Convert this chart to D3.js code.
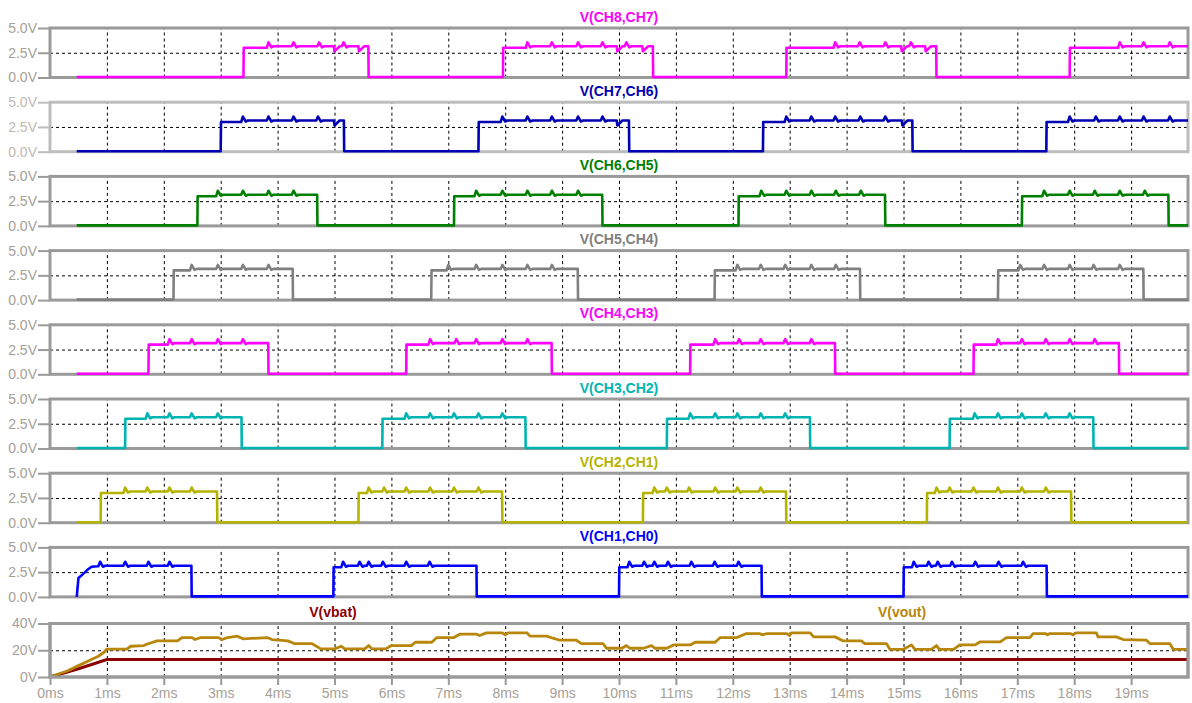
<html>
<head>
<script src="https://d3js.org/d3.v7.min.js"></script>
<style>
body{margin:0;background:#fff;}
text{font-family:"Liberation Sans",Arial,sans-serif;}
</style>
</head>
<body>
<script>
// ---- data (time in ms, volts) ----
var chNames=["V(CH8,CH7)","V(CH7,CH6)","V(CH6,CH5)","V(CH5,CH4)","V(CH4,CH3)","V(CH3,CH2)","V(CH2,CH1)","V(CH1,CH0)"];
var xLabels=["0ms","1ms","2ms","3ms","4ms","5ms","6ms","7ms","8ms","9ms","10ms","11ms","12ms","13ms","14ms","15ms","16ms","17ms","18ms","19ms"];
var chTicks=[0,2.5,5], chTickLabels=["0.0V","2.5V","5.0V"];
var botTicks=[0,20,40], botTickLabels=["0V","20V","40V"];

// pulse edges [rise, fall] per channel
var edges87=[[3.40,5.60],[7.96,10.60],[12.94,15.58],[17.92,20]];
var edges76=[[3.00,5.17],[7.53,10.18],[12.53,15.16],[17.51,20]];
var edges65=[[2.59,4.70],[7.10,9.71],[12.10,14.68],[17.08,19.66]];
var edges54=[[2.17,4.27],[6.70,9.28],[11.68,14.24],[16.66,19.22]];
var edges43=[[1.73,3.84],[6.26,8.82],[11.25,13.80],[16.23,18.79]];
var edges32=[[1.32,3.37],[5.84,8.36],[10.84,13.36],[15.81,18.34]];
var edges21=[[0.89,2.94],[5.42,7.95],[10.42,12.94],[15.41,17.95]];
var edges10=[[0.84,2.49],[4.98,7.50],[10.00,12.51],[15.00,17.52]];

// glitch times on the high level
var spikes87=[3.84,4.28,4.73,5.16,8.39,8.82,9.28,9.71,10.13,13.80,14.23,14.68,15.13,18.80,19.22,19.68];
var spikes76=[3.39,3.84,4.28,4.71,7.95,8.39,8.82,9.28,9.71,12.94,13.38,13.80,14.24,14.68,17.92,18.38,18.80,19.22,19.68];
var spikes65=[2.95,3.39,3.84,4.28,7.49,7.95,8.39,8.82,9.28,12.50,12.94,13.38,13.81,14.25,17.47,17.92,18.36,18.80,19.24];
var spikes54=[2.49,2.95,3.39,3.84,7.00,7.49,7.95,8.39,8.82,12.08,12.49,12.92,13.38,13.81,17.05,17.47,17.92,18.34,18.80];
var spikes43=[2.10,2.49,2.95,3.39,6.68,7.14,7.49,7.95,8.39,11.69,12.11,12.49,12.92,13.38,16.66,17.08,17.50,17.92,18.36];
var spikes32=[1.71,2.10,2.49,2.95,6.26,6.68,7.10,7.53,7.95,11.25,11.69,12.08,12.49,12.92,16.25,16.66,17.08,17.50,17.92];
var spikes21=[1.32,1.71,2.10,2.49,5.60,5.87,6.26,6.68,7.10,7.53,10.62,10.84,11.23,11.69,12.08,12.49,15.58,15.81,16.23,16.66,17.08,17.50];
var spikes10=[0.88,1.32,1.73,2.10,5.15,5.44,5.60,5.85,6.26,6.67,10.18,10.44,10.62,10.86,11.27,11.68,12.10,15.18,15.44,15.60,15.85,16.26,16.67,17.10];

// sag points before the falling edge
var dips87=[5.00,5.43,9.97,10.42,14.97,15.39];
var dips76=[5.00,9.97,14.98];

// start-up ramp of V(CH1,CH0)
var ramp10=[[0.47,0.0],[0.50,1.9],[0.58,2.3],[0.67,2.8],[0.73,3.05],[0.84,3.1]];

var vbat=[[0,0],[0.5,6.2],[1.0,13],[20,13]];
var vout=[[0,0],[0.3,4.5],[0.5,8.5],[0.7,12.5],[0.85,15.5],[0.95,18.5],[1.0,20.9],[1.35,20.9],[1.42,23],[1.65,23.5],[1.7,24.5],[1.88,27],[2.24,27],[2.32,29.5],[2.5,29.5],[2.55,28],[2.65,29.5],[2.95,29.5],[3.03,28],[3.12,29.5],[3.29,30.5],[3.4,28.5],[3.82,29.5],[3.9,28],[4.18,27],[4.29,25],[4.6,25],[4.76,21],[5.0,21],[5.12,23],[5.18,21],[5.53,21],[5.6,23.5],[5.66,21],[5.9,21],[6.0,23.5],[6.35,23.5],[6.42,26],[6.71,26],[6.8,29.5],[7.1,29.5],[7.2,32],[7.5,32],[7.55,31],[7.67,33],[7.95,33],[8.0,31.5],[8.05,33],[8.38,33],[8.44,30.5],[8.73,30.5],[8.84,29],[8.96,27.5],[9.25,27.5],[9.34,25],[9.72,25],[9.78,21.5],[10.05,21.5],[10.13,23.5],[10.19,21.5],[10.43,21.5],[10.57,23.5],[10.63,21.5],[10.84,21.5],[10.96,24],[11.25,24],[11.34,26],[11.69,26],[11.78,29.5],[12.07,29.5],[12.24,32.5],[12.47,32.5],[12.52,31.5],[12.6,32.5],[12.95,32.5],[13.0,31],[13.03,33],[13.36,33],[13.42,30],[13.8,30],[13.94,27],[14.26,27],[14.32,25],[14.7,25],[14.76,20.7],[15.0,20.7],[15.14,24],[15.2,20.7],[15.49,20.7],[15.58,23.5],[15.63,20.7],[15.88,20.7],[15.99,24],[16.26,24],[16.34,26.2],[16.7,26.2],[16.81,29.5],[17.22,29.5],[17.28,32.5],[17.5,32.5],[17.53,31.5],[17.57,32.5],[17.93,32.5],[17.98,31.5],[18.03,33],[18.39,33],[18.42,30],[18.74,30],[18.86,28],[19.27,27.5],[19.33,25],[19.68,25],[19.74,20.7],[20,20.7]];

var chEdges=[edges87,edges76,edges65,edges54,edges43,edges32,edges21,edges10];
var chSpikes=[spikes87,spikes76,spikes65,spikes54,spikes43,spikes32,spikes21,spikes10];
var chDips=[dips87,dips76,[],[],[],[],[],[]];
var chLead=[null,null,null,null,null,null,null,ramp10];

// ---- styles ----
var chColors=["#ff00ff","#0000b4","#008000","#808080","#ff00ff","#00b4b4","#b4b400","#0000ff"];
var vbatColor="#8b0000", voutColor="#b8860b";

// levels
var lowV=0.05, stepV=3.0, highV=3.15, spikeV=3.55, dipV=2.65, tStart=0.47;

function buildTrace(edges,spikes,dips,lead){
	var pts=lead ? lead.slice() : [[tStart,lowV]];
	edges.forEach(function(e,i){
		var level;
		if(i==0 && lead){ level=lead[lead.length-1][1]; }
		else { pts.push([e[0],lowV],[e[0]+0.005,stepV]); level=stepV; }
		var ev=spikes.filter(function(s){return s>e[0]&&s<e[1];}).map(function(s){return [s,"s"];})
			.concat(dips.filter(function(d){return d>e[0]&&d<e[1];}).map(function(d){return [d,"d"];}))
			.sort(function(a,b){return a[0]-b[0];});
		ev.forEach(function(v){
			var t=v[0];
			if(v[1]=="s"){
				pts.push([t-0.03,level],[t,spikeV],[t+0.05,highV-0.1],[t+0.09,highV]);
			} else {
				pts.push([t-0.01,level],[t,dipV],[t+0.09,highV]);
			}
			level=highV;
		});
		if(e[1]<20){ pts.push([e[1]-0.005,level],[e[1],lowV]); }
		else pts.push([20,level]);
	});
	if(pts[pts.length-1][0]<20) pts.push([20,lowV]);
	return pts;
}

var W=1192,H=703;
var left=50,right=1188;
var svg=d3.select("body").append("svg").attr("width",W).attr("height",H);

var x=d3.scaleLinear().domain([0,20]).range([left,right]);
var gridTicks=d3.range(1,20);

function drawFrame(g,y,h,frameColor,labelColor,ticks,tickLabels){
	// grid
	g.append("g").attr("transform","translate(0,"+h+")")
		.call(d3.axisBottom(x).tickValues(gridTicks).tickSize(-h).tickFormat(""))
		.call(function(a){a.select(".domain").remove();
			a.selectAll("line").attr("stroke","#000").attr("stroke-width",1).attr("stroke-dasharray","3,3");});
	g.append("g")
		.call(d3.axisLeft(y).tickValues([ticks[1]]).tickSize(-(right-left)).tickFormat(""))
		.attr("transform","translate("+left+",0)")
		.call(function(a){a.select(".domain").remove();
			a.selectAll("line").attr("stroke","#000").attr("stroke-width",1).attr("stroke-dasharray","3,3");});
	// left ticks
	g.append("g").attr("transform","translate("+left+",0)")
		.call(d3.axisLeft(y).tickValues(ticks).tickSize(12).tickPadding(1)
			.tickFormat(function(d,i){return tickLabels[i];}))
		.call(function(a){a.select(".domain").remove();
			a.selectAll("line").attr("stroke",frameColor).attr("stroke-width",2);
			a.selectAll("text").attr("fill",labelColor).attr("font-size","14px")
				.style("font-family","'Liberation Sans',Arial,sans-serif");});
	g.append("rect").attr("x",left).attr("y",0).attr("width",right-left).attr("height",h)
		.attr("fill","none").attr("stroke",frameColor).attr("stroke-width",3);
}

var panelTop=28, panelStep=74.2, panelH=49.5;
var line=d3.line();

chNames.forEach(function(name,i){
	var top=panelTop+panelStep*i;
	var g=svg.append("g").attr("transform","translate(0,"+top+")");
	var y=d3.scaleLinear().domain([0,5]).range([panelH,0]);
	var light=(i==1);
	var pts=buildTrace(chEdges[i],chSpikes[i],chDips[i],chLead[i]);
	drawFrame(g,y,panelH,light?"#bdbdbd":"#9a9a9a",light?"#bfbab2":"#a6a096",chTicks,chTickLabels);
	g.append("path").datum(pts)
		.attr("d",line.x(function(d){return x(d[0]);}).y(function(d){return y(d[1]);}))
		.attr("fill","none").attr("stroke",chColors[i]).attr("stroke-width",2.6)
		.attr("stroke-linejoin","round");
	svg.append("text").attr("x",(left+right)/2).attr("y",top-6.5).attr("text-anchor","middle")
		.attr("font-size","14px").attr("font-weight","bold").attr("fill",chColors[i]).text(name);
});

// bottom panel
var bTop=623.5, bH=53.5;
var gb=svg.append("g").attr("transform","translate(0,"+bTop+")");
var yb=d3.scaleLinear().domain([0,40]).range([bH,0]);
drawFrame(gb,yb,bH,"#9a9a9a","#a6a096",botTicks,botTickLabels);
gb.append("path").datum(vbat)
	.attr("d",d3.line().x(function(d){return x(d[0]);}).y(function(d){return yb(d[1]);}))
	.attr("fill","none").attr("stroke",vbatColor).attr("stroke-width",3);
gb.append("path").datum(vout)
	.attr("d",d3.line().x(function(d){return x(d[0]);}).y(function(d){return yb(d[1]);}))
	.attr("fill","none").attr("stroke",voutColor).attr("stroke-width",2.8).attr("stroke-linejoin","round");
// x axis
gb.append("g").attr("transform","translate(0,"+bH+")")
	.call(d3.axisBottom(x).tickValues(d3.range(0,20)).tickSize(8).tickPadding(3)
		.tickFormat(function(d,i){return xLabels[i];}))
	.call(function(a){a.select(".domain").remove();
		a.selectAll("line").attr("stroke","#9a9a9a").attr("stroke-width",2);
		a.selectAll("text").attr("fill","#a6a096").attr("font-size","14px")
			.style("font-family","'Liberation Sans',Arial,sans-serif");});
gb.append("rect").attr("x",left).attr("y",0).attr("width",right-left).attr("height",bH)
	.attr("fill","none").attr("stroke","#9a9a9a").attr("stroke-width",3);

svg.append("text").attr("x",333).attr("y",bTop-7).attr("text-anchor","middle")
	.attr("font-size","14px").attr("font-weight","bold").attr("fill",vbatColor).text("V(vbat)");
svg.append("text").attr("x",902).attr("y",bTop-7).attr("text-anchor","middle")
	.attr("font-size","14px").attr("font-weight","bold").attr("fill",voutColor).text("V(vout)");
</script>
</body>
</html>
